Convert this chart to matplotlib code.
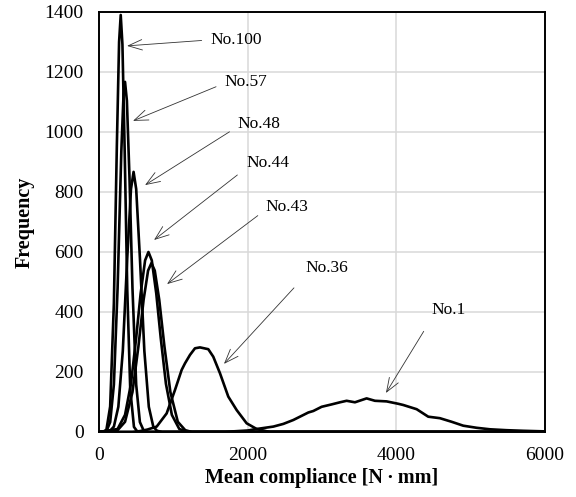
import matplotlib
matplotlib.use('Agg')
import matplotlib.pyplot as plt

# histogram curves (mean compliance, frequency)
no100_x = [0, 60, 100, 150, 200, 240, 270, 292, 315, 345, 380, 420, 470, 520, 6000]
no100_y = [0, 0, 8, 85, 429, 955, 1300, 1390, 1292, 941, 474, 143, 17, 0, 0]

no57_x = [0, 100, 150, 200, 250, 300, 330, 350, 375, 410, 450, 500, 550, 600, 650, 6000]
no57_y = [0, 3, 33, 158, 480, 935, 1126, 1167, 1104, 848, 480, 158, 33, 5, 0, 0]

no48_x = [0, 150, 200, 260, 320, 380, 430, 465, 500, 550, 610, 670, 730, 780, 850, 6000]
no48_y = [0, 4, 18, 84, 270, 581, 810, 867, 810, 581, 270, 84, 18, 4, 0, 0]

no44_x = [0, 250, 350, 430, 500, 560, 620, 665, 710, 770, 830, 900, 980, 1080, 1200, 6000]
no44_y = [0, 10, 57, 161, 314, 462, 572, 600, 572, 462, 314, 161, 57, 10, 0, 0]

no43_x = [0, 250, 350, 450, 530, 600, 660, 705, 750, 810, 880, 960, 1060, 1160, 1250, 6000]
no43_y = [0, 6, 34, 133, 285, 441, 538, 563, 538, 441, 285, 133, 34, 6, 0, 0]

no36_x = [0, 450, 551, 650, 776, 910, 1022, 1112, 1157, 1224, 1291, 1358, 1470, 1537,
          1627, 1739, 1852, 1986, 2121, 2300, 6000]
no36_y = [0, 0, 3, 8, 18, 62, 140, 207, 229, 257, 279, 282, 276, 251,
          196, 118, 73, 29, 10, 0, 0]

no1_x = [0, 1700, 1800, 2000, 2121, 2345, 2480, 2614, 2703, 2816, 2883, 2995, 3130, 3242,
         3331, 3443, 3600, 3712, 3869, 4026, 4093, 4273, 4429, 4586, 4744, 4900, 5080,
         5260, 5484, 5708, 6000]
no1_y = [0, 0, 2, 5, 10, 18, 27, 40, 51, 65, 70, 84, 92, 99,
         104, 99, 112, 104, 102, 94, 90, 76, 51, 46, 34, 21, 14,
         9, 6, 4, 2]

labels = ['No.100', 'No.57', 'No.48', 'No.44', 'No.43', 'No.36', 'No.1']
# arrow tip and label position (data units)
tips = [(377, 1287), (457, 1037), (619, 823), (740, 640), (915, 493), (1681, 227), (3860, 130)]
texts = [(1493, 1307), (1681, 1167), (1856, 1027), (1987, 897), (2233, 750), (2771, 547), (4479, 407)]
relpos = [(0, 0.5), (0, 0.4), (0, 0.3), (0, 0.2), (0, 0.3), (0, 0.0), (0, 0.0)]
shrink = [4, 4, 4, 6, 4, 9, 9]

xticks = [0, 2000, 4000, 6000]
yticks = [0, 200, 400, 600, 800, 1000, 1200, 1400]

plt.rcParams['font.family'] = ['Liberation Serif', 'DejaVu Serif']

fig = plt.figure(figsize=(5.76, 4.97), dpi=100)
ax = fig.add_axes([0.1719, 0.1308, 0.7743, 0.8451])

for xs, ys in [(no1_x, no1_y), (no36_x, no36_y), (no43_x, no43_y), (no44_x, no44_y),
               (no48_x, no48_y), (no57_x, no57_y), (no100_x, no100_y)]:
    ax.plot(xs, ys, color='black', lw=1.9, solid_joinstyle='round', zorder=3)

for lab, tip, txt, rp, sh in zip(labels, tips, texts, relpos, shrink):
    ax.annotate(lab, xy=tip, xytext=txt, ha='left', va='center', fontsize=12.5,
                arrowprops=dict(arrowstyle='->,head_length=0.8,head_width=0.3',
                                color='#333333', lw=0.6, relpos=rp,
                                shrinkA=sh, shrinkB=0),
                zorder=4)

ax.set_xlim(0, 6000)
ax.set_ylim(0, 1400)
ax.set_xticks(xticks)
ax.set_yticks(yticks)
ax.tick_params(length=0, labelsize=14, pad=11)
ax.grid(True, color='#d9d9d9', lw=1.1)
ax.set_axisbelow(True)
for s in ax.spines.values():
    s.set_linewidth(1.4)
    s.set_color('black')

ax.set_xlabel('Mean compliance [N\u2009\u00b7\u2009mm]', fontsize=14.5, fontweight='bold', labelpad=3)
ax.set_ylabel('Frequency', fontsize=14.5, fontweight='bold', labelpad=7)

fig.savefig('out.png', dpi=100)
